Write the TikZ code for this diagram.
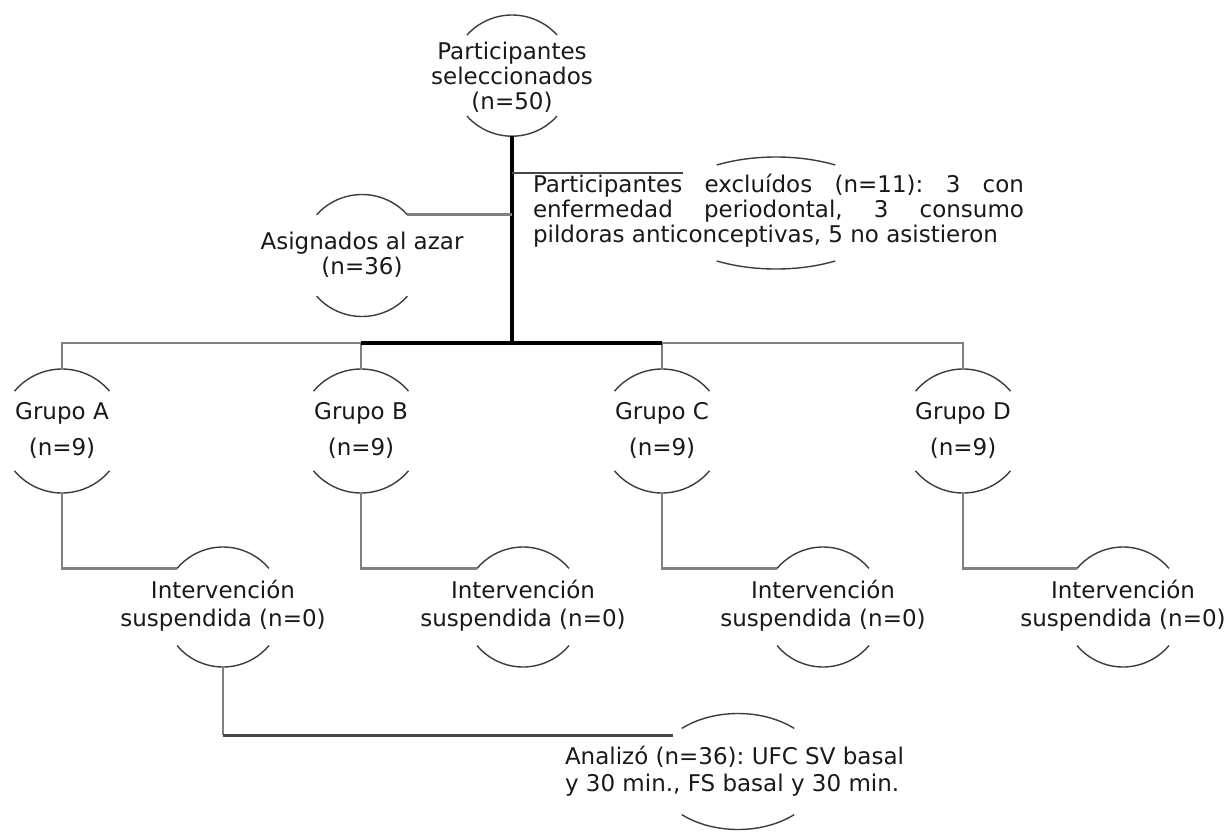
\documentclass[tikz,border=0pt]{standalone}
\usepackage{fontspec}
\setmainfont{DejaVu Sans}
\usetikzlibrary{shapes.geometric}
\definecolor{conngray}{RGB}{128,128,128}
\definecolor{arcgray}{RGB}{60,60,60}
\definecolor{darkconn}{RGB}{70,70,70}
\definecolor{txtcol}{RGB}{25,25,25}
\newcommand\fs{\fontsize{23}{25}\selectfont\frenchspacing}
\newcommand\arcpair[4]{%
  \draw[arcs] ([shift={(#4:#2pt and #3pt)}]#1.center) arc[start angle=#4, end angle={180-#4}, x radius=#2pt, y radius=#3pt];
  \draw[arcs] ([shift={({180+#4}:#2pt and #3pt)}]#1.center) arc[start angle={180+#4}, end angle={360-#4}, x radius=#2pt, y radius=#3pt];
}
\begin{document}
\begin{tikzpicture}[x=1pt,y=1pt,
  every node/.style={inner sep=0pt, outer sep=0pt},
  txt/.style={font=\fs, align=center, text=txtcol},
  ring/.style={circle, minimum size=#1},
  oval/.style 2 args={ellipse, minimum width=#1, minimum height=#2},
  arcs/.style={draw=arcgray, line width=1.4pt},
  conn/.style={draw=conngray, line width=2.8pt},
  darkline/.style={draw=darkconn, line width=2.8pt},
  mainline/.style={draw=black, line width=3.2pt}]
\useasboundingbox (0,0) rectangle (1231,-832);

% shapes (invisible) carrying the arcs
\node[ring=121.2pt] (top) at (512,-75.6) {};
\node[oval={230pt}{112pt}] (excl) at (776,-213) {};
\node[ring=122pt] (asig) at (362,-255.5) {};
\node[ring=124pt] (gA) at (62,-431) {};
\node[ring=124pt] (gB) at (361,-431) {};
\node[ring=124pt] (gC) at (662,-431) {};
\node[ring=124pt] (gD) at (963,-431) {};
\node[ring=120pt] (iA) at (223,-607) {};
\node[ring=120pt] (iB) at (523,-607) {};
\node[ring=120pt] (iC) at (823,-607) {};
\node[ring=120pt] (iD) at (1123,-607) {};
\node[oval={168pt}{116pt}] (an) at (738,-771.5) {};

% texts
\node[txt] (topT) at (512,-77) {Participantes\\seleccionados\\(n=50)};
\node[txt, text width=491pt, align=justify] (exclT) at (778.5,-211)
  {\tolerance=10000\relax\hyphenpenalty=10000\relax
   Participantes excluídos (n=11): 3 con\linebreak enfermedad periodontal, 3 consumo\linebreak pildoras anticonceptivas, 5 no asistieron};
\node[txt] (asigT) at (362,-254.5) {Asignados al azar\\(n=36)};
\node[txt] (gAT) at (62,-430) {Grupo A\\[11pt](n=9)};
\node[txt] (gBT) at (361,-430) {Grupo B\\[11pt](n=9)};
\node[txt] (gCT) at (662,-430) {Grupo C\\[11pt](n=9)};
\node[txt] (gDT) at (963,-430) {Grupo D\\[11pt](n=9)};
\node[txt] (iAT) at (223,-606) {Intervención\\[3pt]suspendida (n=0)};
\node[txt] (iBT) at (523,-606) {Intervención\\[3pt]suspendida (n=0)};
\node[txt] (iCT) at (823,-606) {Intervención\\[3pt]suspendida (n=0)};
\node[txt] (iDT) at (1123,-606) {Intervención\\[3pt]suspendida (n=0)};
\node[txt, align=left, anchor=west] (anT) at (565,-771.5) {Analizó (n=36): UFC SV basal\\[2pt]y 30 min., FS basal y 30 min.};

% arcs
\arcpair{top}{60.6}{60.6}{42}
\arcpair{excl}{115}{56}{59}
\arcpair{asig}{61}{61}{42}
\arcpair{gA}{62}{62}{40}
\arcpair{gB}{62}{62}{40}
\arcpair{gC}{62}{62}{40}
\arcpair{gD}{62}{62}{40}
\arcpair{iA}{60}{60}{40}
\arcpair{iB}{60}{60}{40}
\arcpair{iC}{60}{60}{40}
\arcpair{iD}{60}{60}{40}
\arcpair{an}{84}{58}{48}

% connectors
\coordinate (hub) at (512,-343);
\coordinate (exEnd) at (683,-173);
\draw[conn] (gA.north) -- (gA.north |- hub) -- (gD.north |- hub) -- (gD.north);
\draw[conn] (gB.north) -- (gB.north |- hub);
\draw[conn] (gC.north) -- (gC.north |- hub);
\draw[mainline] (gB.north |- hub) -- (gC.north |- hub);
\draw[mainline] (top.south) -- (hub);
\draw[darkline] (top.south |- exEnd) -- (exEnd);
\draw[conn] (asig.42) -- (asig.42 -| top.south);
\draw[conn] (gA.south) |- (iA.140);
\draw[conn] (gB.south) |- (iB.140);
\draw[conn] (gC.south) |- (iC.140);
\draw[conn] (gD.south) |- (iD.140);
\draw[conn] (iA.south) -- (iA.south |- an.151);
\draw[darkline] (iA.south |- an.151) -- (an.151);
\end{tikzpicture}
\end{document}
